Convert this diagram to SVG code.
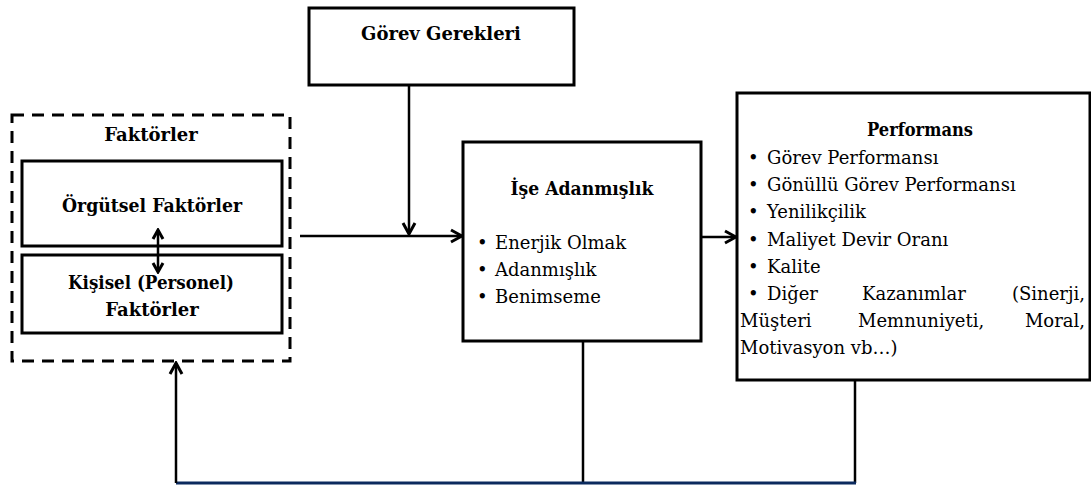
<svg xmlns="http://www.w3.org/2000/svg" width="1091" height="486" viewBox="0 0 1091 486">
  <style>
    .box { fill: #ffffff; stroke: #000000; stroke-width: 3; }
    .dash { fill: none; stroke: #000000; stroke-width: 3; stroke-dasharray: 12 8; }
    .line { fill: none; stroke: #000000; stroke-width: 2.5; }
    text { font-family: "DejaVu Serif", "Liberation Serif", serif; font-size: 18px; fill: #000; }
    .b { font-weight: bold; }
    .c { text-anchor: middle; }
    .e { text-anchor: end; }
  </style>
  <defs>
    <marker id="arr" viewBox="0 0 16 16" refX="14" refY="8" markerWidth="16" markerHeight="16" markerUnits="userSpaceOnUse" orient="auto-start-reverse">
      <path d="M3,2 L14,8 L3,14" fill="none" stroke="#000" stroke-width="3"/>
    </marker>
    <marker id="arr-s" viewBox="0 0 14 14" refX="12" refY="7" markerWidth="14" markerHeight="14" markerUnits="userSpaceOnUse" orient="auto-start-reverse">
      <path d="M3,2 L12,7 L3,12" fill="none" stroke="#000" stroke-width="3"/>
    </marker>
  </defs>

  <rect width="1091" height="486" fill="#ffffff"/>

  <!-- Görev Gerekleri -->
  <g id="gorev">
    <rect class="box" x="309" y="8" width="265" height="77"/>
    <text class="b c" x="441" y="40">Görev Gerekleri</text>
  </g>

  <!-- Faktörler group -->
  <g id="faktorler">
    <rect class="dash" x="12" y="115" width="278" height="246"/>
    <text class="b c" x="151" y="141">Faktörler</text>
  </g>

  <g id="orgutsel">
    <rect class="box" x="22" y="161" width="260" height="85"/>
    <text class="b c" x="152" y="212" textLength="180" lengthAdjust="spacingAndGlyphs">Örgütsel Faktörler</text>
  </g>

  <g id="kisisel">
    <rect class="box" x="22" y="255" width="260" height="78"/>
    <text class="b c" x="151" y="289" textLength="166" lengthAdjust="spacingAndGlyphs">Kişisel (Personel)</text>
    <text class="b c" x="152" y="316">Faktörler</text>
  </g>

  <!-- İşe Adanmışlık -->
  <g id="adanmislik">
    <rect class="box" x="463" y="142" width="238" height="199"/>
    <text class="b c" x="582" y="195" textLength="143" lengthAdjust="spacingAndGlyphs">İşe Adanmışlık</text>
    <text x="477" y="249">•</text>
    <text x="495" y="249">Enerjik Olmak</text>
    <text x="477" y="276">•</text>
    <text x="495" y="276">Adanmışlık</text>
    <text x="477" y="303">•</text>
    <text x="495" y="303">Benimseme</text>
  </g>

  <!-- Performans -->
  <g id="performans">
    <rect class="box" x="737" y="93" width="353" height="287"/>
    <text class="b c" x="920" y="136" textLength="106" lengthAdjust="spacingAndGlyphs">Performans</text>
    <text x="748" y="164">•</text>
    <text x="767" y="164">Görev Performansı</text>
    <text x="748" y="191">•</text>
    <text x="767" y="191">Gönüllü Görev Performansı</text>
    <text x="748" y="218">•</text>
    <text x="767" y="218">Yenilikçilik</text>
    <text x="748" y="246">•</text>
    <text x="767" y="246">Maliyet Devir Oranı</text>
    <text x="748" y="273">•</text>
    <text x="767" y="273">Kalite</text>
    <text x="748" y="300">•</text>
    <text x="767" y="300">Diğer</text>
    <text x="862" y="300">Kazanımlar</text>
    <text class="e" x="1085" y="300">(Sinerji,</text>
    <text x="740" y="327">Müşteri</text>
    <text x="858" y="327">Memnuniyeti,</text>
    <text class="e" x="1085" y="327">Moral,</text>
    <text x="740" y="354">Motivasyon vb…)</text>
  </g>

  <!-- connectors -->
  <g id="connectors">
    <line class="line" x1="409" y1="85" x2="409" y2="234" marker-end="url(#arr)"/>
    <line class="line" x1="300" y1="236" x2="462" y2="236" marker-end="url(#arr)"/>
    <line class="line" x1="701" y1="237" x2="736" y2="237" marker-end="url(#arr)"/>
    <line class="line" x1="158" y1="230" x2="158" y2="272" marker-start="url(#arr-s)" marker-end="url(#arr-s)"/>
    <line class="line" x1="583" y1="342" x2="583" y2="483"/>
    <line class="line" x1="855" y1="381" x2="855" y2="483"/>
    <line x1="176" y1="483" x2="856" y2="483" stroke="#0b2a5e" stroke-width="3"/>
    <line class="line" x1="176" y1="483" x2="176" y2="363" marker-end="url(#arr)"/>
  </g>
</svg>
